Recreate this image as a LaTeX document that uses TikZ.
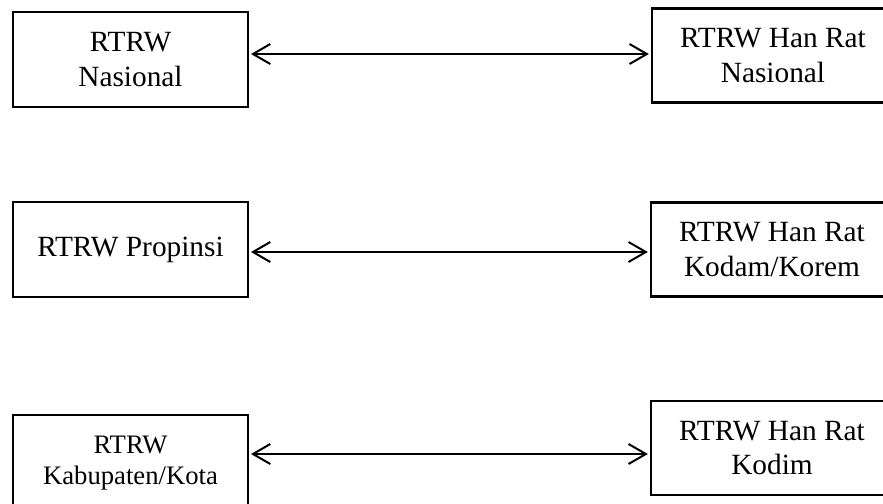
\documentclass[tikz,border=0pt]{standalone}
\usepackage{fontspec}
\setmainfont{Liberation Serif}
\usetikzlibrary{arrows.meta}
\begin{document}
\begin{tikzpicture}[x=0.75pt,y=-0.75pt,
  box/.style={draw=black,line width=1.7pt,align=center,inner sep=0pt,
    font=\fontsize{22}{26}\selectfont},
  leftbox/.style={box,minimum width=176pt,minimum height=71.5pt},
  rightbox/.style={box,minimum width=181.5pt,minimum height=70.5pt},
  smalltext/.style={font=\fontsize{20}{23.5}\selectfont},
  link/.style={line width=1.5pt,
    {Straight Barb[length=13pt,width=15pt,line width=1.5pt]}-{Straight Barb[length=13pt,width=15pt,line width=1.5pt]},
    shorten <=1.5pt,shorten >=1.5pt}]
\useasboundingbox (0,0) rectangle (883,504);
\clip (0,0) rectangle (883,504);

% left column: spatial plans
\node[leftbox] (l1) at (130.5,59.5) {RTRW\\Nasional};
\node[leftbox] (l2) at (130.5,249.5) {RTRW Propinsi};
\node[leftbox,smalltext] (l3) at (130.5,463) {RTRW\\Kabupaten/Kota};

% right column: defence spatial plans
\node[rightbox] (r1) at (773,55.5) {RTRW Han Rat\\Nasional};
\node[rightbox] (r2) at (772,249.5) {RTRW Han Rat\\Kodam/Korem};
\node[rightbox] (r3) at (772,448) {RTRW Han Rat\\Kodim};

% heights of the connecting arrows
\coordinate (y1) at (0,54);
\coordinate (y2) at (0,252);
\coordinate (y3) at (0,454);

\draw[link] (l1.east |- y1) -- (r1.west |- y1);
\draw[link] (l2.east |- y2) -- (r2.west |- y2);
\draw[link] (l3.east |- y3) -- (r3.west |- y3);
\end{tikzpicture}
\end{document}
